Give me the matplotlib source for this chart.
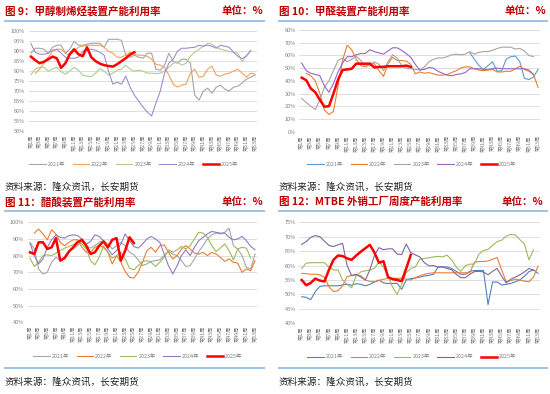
import numpy as np
import matplotlib
matplotlib.use("Agg")
import matplotlib.pyplot as plt
from matplotlib.lines import Line2D

plt.rcParams['font.family'] = ['Noto Sans CJK SC', 'DejaVu Sans']

nan = np.nan
weeks = list(range(1, 54))
week_labels = [f"第{w}周" for w in range(1, 54, 2)]
years = ["2021年", "2022年", "2023年", "2024年", "2025年"]

# ---- 图9 甲醇制烯烃装置产能利用率 (%)
p9_2021 = [89, 91.5, 91.5, 91, 89, 92, 93, 93, 89, 91, 95, 93, 93, 93.5, 94, 94, 94, 92, 96, 96,
           96, 95.5, 88, 87, 88, 87, 86.5, 89, 89, 81, 80.5, 83, 89, 85, 84, 86, 86, 84, 68, 65.5,
           70, 71.5, 69, 72, 73, 71, 70, 72, 72.5, 74, 76, 77, 78]
p9_2022 = [nan, 79, 81, 84, 87, 90, 91, 91, 89, 88, 90, 92, 92.5, 93, 93, 93, 93, 92, 90, 89,
           87, 87, 88, 89.5, 88.5, 88, 88, 87.5, 86, 83.5, 83, 82, 78, 73.5, 72, 73, 73.5, 79, 81, 77,
           77.5, 81, 82.5, 78, 77.5, 78.5, 79, 80, 81, 79, 77, 79, 78.5]
p9_2023 = [78.3, 81, 82, 82, 80, 81, 82, 79.7, 78.5, 80, 82, 80.5, 78, 77.5, 77.3, 79, 81.3, 80, 78, 79,
           80.5, 81, 83, 81, 80, 80.5, 80, 79, 79, 78.8, 79, 80, 82, 84, 84.5, 83, 84, 87.5, 89.5, 91,
           92.5, 94, 93.5, 92, 91, 90.5, 89.8, 89.5, 89, 84.7, 88, 90, nan]
p9_2024 = [93.8, 89.5, 88.5, 88.5, 89, 90.5, 91, 89, 87, 86.5, 86.5, 87, 90, 91, 91, 90.5, 89.5, 88, 80, 73.5,
           74.5, 73.5, 77.5, 72, 68, 65, 62, 59.5, 57.5, 64, 70, 79, 84, 86, 90, 91.5, 91.5, 91.8, 92, 93,
           92.5, 93, 92.5, 91.5, 93, 92.5, 92, 89.5, 87.5, 86.3, 87.5, 90.5, nan]
p9_2025 = [87.3, 85.5, 84, 84.7, 86, 87.3, 86.5, 81.7, 84, 88.5, 91, 88.5, 87.5, 92, 87, 85, 83.8, 83, 82.6, 82.3,
           83.5, 85, 86.5, 88.3, 89.5]

# ---- 图10 甲醛装置产能利用率 (%)
p10_2021 = [nan] * 37 + [62, 57, 52, 49, 52, 55, 47.5, 48, 57, 59, 59.5, 55, 42, 41, 43, 49]
p10_2022 = [nan, 46, 44, 40, 30, 17, 13.5, 16, 36, 56, 68, 64.5, 57, 52, 51, 54, 53.5, 48, 43.5, 53.5,
            58.5, 56, 56, 55.5, 53, 45.5, 47, 46, 46.5, 45.5, 44.5, 44.5, 45, 46.5, 48, 50, 51, 51, 49.5, 48.5,
            48, 48.5, 49, 47, 47, 47.5, 47.5, 49.5, 51.5, 49, 47.5, 45, 35]
p10_2023 = [26, 23, 20, 17.5, 25, 35, 40, 48, 56, 58, 55, 57, 59.5, 56, 51, 52, 55, 53, 48, 55,
            60.5, 58, 52, 50, 49.5, 49, 48.5, 51, 55, 57, 58, 58, 59, 60.5, 61, 60.5, 61, 63, 61, 62.5,
            63, 63, 64, 65.5, 66.5, 66.5, 66.5, 65, 65.5, 63.5, 60, 59, nan]
p10_2024 = [54, 48, 46, 45, 44, 36, 31, 38, 47, 54, 59, 59, 60.5, 61.5, 61.5, 64.5, 63, 62, 61, 63.5,
            66, 66, 64, 61.5, 58.5, 53, 48.5, 49, 50.5, 50, 47.5, 46, 44.5, 44, 45, 45.5, 46.5, 49.5, 49.5, 49.5,
            49, 49, 49.5, 50, 49.5, 49.5, 49.5, 49.5, 49.5, 49.5, 48.5, 45, nan]
p10_2025 = [42.5, 40.5, 34, 31, 25, 19.7, 20, 30, 41, 48.5, 49, 49.5, 53.5, 53.5, 53.5, 53.5, 50.5, 51, 51, 51.5,
            51.5, 51.5, 51.5, 52, 51]

# ---- 图11 醋酸装置产能利用率 (%)
p11_2021 = [88, 84, 72, 69, 70, 76, 79, 77, 79.5, 82.5, 84, 86, 88.5, 86, 84.5, 86, 88, 89, 87, 84,
            86, 88, 86, 82, 80.5, 77.5, 74, 75, 76.5, 77, 77.5, 80, 82.5, 81, 80, 77, 73.5, 74, 78, 82.5,
            86, 90, 92.5, 93.5, 93, 94, 96.5, 86, 84, 80, 73, 72, 81]
p11_2022 = [nan, 93.5, 96, 93, 89.5, 95.5, 93, 88, 86, 88, 89.5, 89.5, 85, 82, 82, 85, 86, 85, 82, 75,
            80, 76, 70.5, 67, 66.5, 70, 76, 83, 85, 82, 86, 86.5, 82, 78, 80, 84, 86, 84, 81.5, 81,
            82, 80, 82, 81, 79, 76.5, 78, 76, 75.5, 70, 72, 71, 77]
p11_2023 = [78.5, 73.5, 76, 80, 80.5, 80, 81.5, 83, 84.5, 85.5, 86.5, 88.5, 87, 84, 77, 74.5, 79, 86, 82, 78.5,
            80, 82, 78, 72.5, 71.5, 74, 76.5, 77, 76, 73.5, 76, 79, 83.5, 82, 83.5, 85.5, 84, 86, 90, 94,
            93.5, 91, 86, 82.5, 84.5, 87, 83, 77.5, 84, 85, 84.5, 78.5, nan]
p11_2024 = [87.5, 80, 75, 78, 85, 89.5, 92.5, 91, 90.5, 92, 92.5, 92, 90, 87, 88.5, 92.5, 91.5, 89, 84, 80.5,
            83, 87, 93, 89, 85.5, 84.5, 87, 90, 91.5, 90, 88, 81, 74, 69, 74, 80, 83.5, 80, 85, 89,
            91, 93, 94.5, 94, 93.5, 93.5, 91, 89.5, 90, 91.5, 89, 85.5, 83.5]
p11_2025 = [82, 81, 88, 88, 84, 85, 90.5, 77, 78.5, 82.5, 85, 88, 89.5, 86, 81, 82, 86, 88.5, 85, 89.5,
            90.5, 77, 83, 91, 87.5]

# ---- 图12 MTBE外销工厂周度产能利用率 (%)
p12_2021 = [49.2, 49, 48.2, 51, 52.8, 53, 53, 53, 53, 53.3, 53.5, 53.2, 53.7, 53.5, 53, 53.5, 54.3, 55, 54, 53.8,
            53.8, 53.8, 51.8, 55, 55.5, 55.7, 56, 56.4, 56.6, 57, 59.5, 59.6, 59.5, 59, 58, 57, 57, 58, 58.3, 58.3,
            58.3, 46.5, 54.3, 54.3, 53.3, 53.5, 53.8, 54.4, 55, 56.3, 57.9, 58.5, 57.3]
p12_2022 = [57.3, 57.2, 57, 57, 56.8, 56, 52.7, 51, 51.3, 53, 56.2, 56.6, 56.7, 56.5, 55, 54.5, 54.4, 54.8, 55.3, 55.5,
            55.6, 55.6, 55.6, 55.3, 55, 55.8, 56.5, 57, 57.3, 57.5, 57.5, 57.5, 57.5, 57.5, 57.5, 57.5, 57.5, 57.5, 61.2, 61.4,
            61.4, 61.6, 62.2, 62.8, 58.5, 54.4, 54.8, 55.3, 55, 54.6, 54.4, 56, 59.8]
p12_2023 = [59, 60.8, 61, 61, 61, 61, 59.5, 58.5, 58.5, 55, 53.5, 52.3, 56.5, 57.8, 58.2, 58.5, 59, 61.3, 59.5, 56.5,
            52.5, 50, 53.5, 57.5, 59, 59.5, 62.2, 62.5, 62.7, 63, 63.2, 63, 63.6, 62, 59.5, 58, 60, 60.5, 60.5, 64,
            65.2, 65.6, 67, 68.3, 68.8, 70.2, 70.8, 70.6, 69, 67.5, 62, 65.5, nan]
p12_2024 = [67.4, 68.3, 69.8, 70.4, 70, 68.5, 67, 66.6, 67.2, 67.7, 60, 56.5, 57, 56, 55, 58.5, 63.5, 66.2, 65.5, 65.8,
            65.8, 64, 63.8, 67.5, 64.5, 63.7, 63, 61, 59.9, 60, 59.5, 59.5, 59, 58.5, 57, 55.8, 55.8, 57, 57.9, 58,
            57.8, 56.8, 58, 59, 56.3, 54, 55.3, 56, 56.8, 57.8, 59, 58.5, nan]
p12_2025 = [55, 53.2, 54, 55.5, 54.8, 54.5, 58.5, 62, 63.5, 63.3, 62.5, 62, 63.5, 64.8, 66, 67.2, 64.5, 61, 61.5, 56,
            55.3, 55, 54.6, 59, 63.7]

W, H = 550, 394
fig = plt.figure(figsize=(W / 100, H / 100), dpi=100)
fig.patch.set_facecolor("white")

RED_T = "#C00000"
BLUE_L = "#9DC3E6"


def fx(x):
    return x / W


def fy(y):
    return 1 - y / H


def hline(x0, x1, y, color=BLUE_L, lw=1.4):
    fig.add_artist(Line2D([fx(x0), fx(x1)], [fy(y), fy(y)], transform=fig.transFigure,
                          color=color, lw=lw, solid_capstyle="butt"))


def header(x0, x1, y_title, y_line, title, unit_right):
    fig.text(fx(x0), fy(y_title), title, color=RED_T, fontsize=7.6, fontweight="bold",
             ha="left", va="center")
    fig.text(fx(unit_right), fy(y_title), "单位：%", color=RED_T, fontsize=7.6, fontweight="bold",
             ha="right", va="center")
    hline(x0 - 1, x1, y_line)


def source(x0, y):
    fig.text(fx(x0), fy(y), "资料来源：隆众资讯，长安期货", color="#222222", fontsize=6.9,
             ha="left", va="center")


def panel(box, series, colors, ylim, ystep, legend_xy, ypad=2.5):
    x0, x1, ytop, ybot = box
    ax = fig.add_axes([fx(x0), fy(ybot), (x1 - x0) / W, (ybot - ytop) / H])
    for i, (s, c) in enumerate(zip(series, colors)):
        vals = np.array(list(s) + [nan] * (53 - len(s)), dtype=float)
        lw = 1.8 if i == 4 else 0.8
        ax.plot(weeks, vals, color=c, lw=lw, label=years[i], zorder=3 + i,
                solid_joinstyle="round")
    ax.set_xlim(0.5, 53.5)
    ax.set_ylim(*ylim)
    yt = np.arange(ylim[0], ylim[1] + 0.01, ystep)
    ax.set_yticks(yt)
    ax.set_yticklabels([f"{int(v)}%" for v in yt], fontsize=4.0, color="#808080")
    ax.set_xticks(list(range(1, 54, 2)))
    ax.set_xticklabels(week_labels, rotation=90, fontsize=3.8, color="#808080")
    ax.tick_params(axis="both", length=0)
    ax.tick_params(axis="y", pad=ypad)
    ax.tick_params(axis="x", pad=2.5)
    for sp in ax.spines.values():
        sp.set_visible(False)
    ax.grid(axis="y", color="#D9D9D9", lw=0.6)
    ax.set_axisbelow(True)
    handles, labels = ax.get_legend_handles_labels()
    fig.legend(handles, labels, loc="center", bbox_to_anchor=(fx(legend_xy[0]), fy(legend_xy[1])),
               ncol=5, frameon=False, fontsize=3.9, handlelength=3.0, handletextpad=0.4,
               columnspacing=1.4, labelcolor="#808080")
    return ax


# Panel 9
header(5, 265, 11, 20.5, "图 9：甲醇制烯烃装置产能利用率", 263)
panel((28.8, 257.2, 31.3, 131.0), [p9_2021, p9_2022, p9_2023, p9_2024, p9_2025],
      ["#A5A5A5", "#F4A15D", "#A9D18E", "#A08CD2", "#FF0000"], (50, 100), 5, (134, 164), ypad=3.0)
source(5, 187)

# Panel 10
header(279, 548, 11, 20.5, "图 10：甲醛装置产能利用率", 546)
panel((299.4, 540.3, 30.0, 131.7), [p10_2021, p10_2022, p10_2023, p10_2024, p10_2025],
      ["#5B9BD5", "#ED7D31", "#A5A5A5", "#9966CC", "#FF0000"], (0, 80), 10, (412, 164))
source(279, 187)

# Panel 11
header(5, 265, 202, 211, "图 11：醋酸装置产能利用率", 263)
panel((27.8, 257.2, 222.3, 322.3), [p11_2021, p11_2022, p11_2023, p11_2024, p11_2025],
      ["#A5A5A5", "#ED7D31", "#9BBB59", "#8E7CC3", "#FF0000"], (40, 100), 10, (138, 356), ypad=3.0)
hline(4, 265, 368)
source(5, 382)

# Panel 12
header(279, 548, 202, 211, "图 12：MTBE 外销工厂周度产能利用率", 543)
panel((299.4, 540.3, 222.3, 323.3), [p12_2021, p12_2022, p12_2023, p12_2024, p12_2025],
      ["#4F81BD", "#ED7D31", "#9BBB59", "#8064A2", "#FF0000"], (40, 75), 5, (412, 357))
hline(278, 548, 368)
source(279, 382)

fig.savefig("out.png", dpi=100)
